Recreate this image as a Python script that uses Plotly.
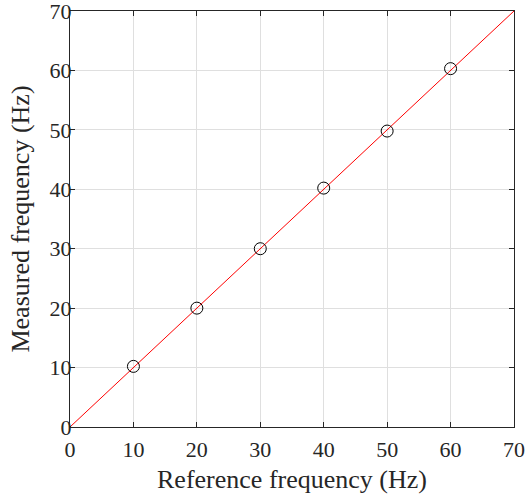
import plotly.graph_objects as go

# Calibration data: reference vs measured frequency (Hz)
reference_hz = [10, 20, 30, 40, 50, 60]
measured_hz = [10.2, 20.0, 30.0, 40.2, 49.8, 60.3]
ideal_line = [0, 70]
tick_vals = [0, 10, 20, 30, 40, 50, 60, 70]

FONT = "Liberation Serif, Times New Roman, serif"
AXIS_COLOR = "#262626"
GRID_COLOR = "#dfdfdf"

fig = go.Figure()

# Ideal 1:1 line
fig.add_trace(go.Scatter(
    x=ideal_line, y=ideal_line, mode="lines",
    line=dict(color="#ff0000", width=1),
    showlegend=False, hoverinfo="skip",
))

# Measured points
fig.add_trace(go.Scatter(
    x=reference_hz, y=measured_hz, mode="markers",
    marker=dict(symbol="circle-open", size=12, color="#000000",
                line=dict(width=1, color="#000000")),
    showlegend=False,
))

axis_common = dict(
    range=[0, 70], tickvals=tick_vals, automargin=False,
    ticklabeloverflow="allow",
    showline=True, linecolor=AXIS_COLOR, linewidth=1, mirror="allticks",
    ticks="inside", ticklen=5, tickcolor=AXIS_COLOR, tickwidth=1,
    showgrid=True, gridcolor=GRID_COLOR, gridwidth=1,
    zeroline=False,
    tickfont=dict(family=FONT, size=22, color=AXIS_COLOR),
)

fig.update_layout(
    width=526, height=497,
    margin=dict(l=70, r=12, t=11, b=70),
    paper_bgcolor="white", plot_bgcolor="white",
    font=dict(family=FONT, color=AXIS_COLOR),
    xaxis=dict(**axis_common, ticklabelstandoff=3,
               title=dict(text="Reference frequency (Hz)",
                          font=dict(family=FONT, size=26, color=AXIS_COLOR),
                          standoff=8)),
    yaxis=dict(**axis_common, ticklabelstandoff=-7,
               title=dict(text="Measured frequency (Hz)",
                          font=dict(family=FONT, size=26, color=AXIS_COLOR),
                          standoff=12)),
)

fig.write_html("out.html")
